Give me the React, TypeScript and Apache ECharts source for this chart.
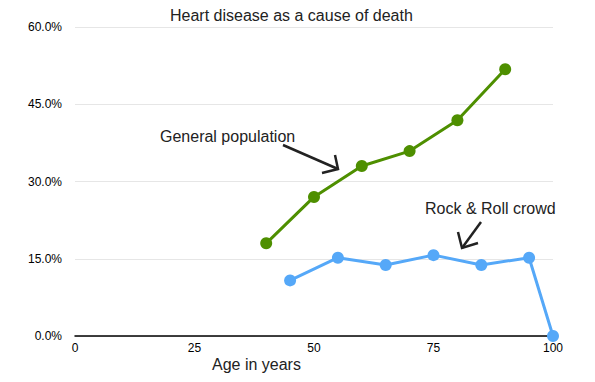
import React, { useEffect, useRef } from "react";
import * as echarts from "echarts";

const xTicks = [0, 25, 50, 75, 100];
const generalAges = [40, 50, 60, 70, 80, 90];
const generalValues = [18.0, 27.0, 33.0, 35.9, 41.9, 51.8];
const rockAges = [45, 55, 65, 75, 85, 95, 100];
const rockValues = [10.8, 15.2, 13.8, 15.7, 13.8, 15.2, 0];

const FONT = "Liberation Sans, Arial, Helvetica, sans-serif";

export default function App() {
  const ref = useRef<HTMLDivElement>(null);
  useEffect(() => {
    if (!ref.current) return;
    const chart = echarts.init(ref.current, null, { renderer: "svg" });
    const arrow = "#222222";
    chart.setOption({
      animation: false,
      backgroundColor: "#ffffff",
      textStyle: { fontFamily: FONT },
      grid: { left: 75, right: 42, top: 27, bottom: 46, containLabel: false },
      xAxis: {
        type: "value",
        min: xTicks[0],
        max: xTicks[xTicks.length - 1],
        interval: 25,
        axisLine: { show: true, lineStyle: { color: "#000000", width: 1.5 } },
        axisTick: { show: false },
        splitLine: { show: false },
        axisLabel: { color: "#000000", fontSize: 12, fontFamily: FONT, margin: 6 },
      },
      yAxis: {
        type: "value",
        min: 0,
        max: 60,
        interval: 15,
        axisLine: { show: false },
        axisTick: { show: false },
        splitLine: { show: true, lineStyle: { color: "#e6e6e6", width: 1 } },
        axisLabel: {
          color: "#000000",
          fontSize: 12,
          fontFamily: FONT,
          margin: 13,
          formatter: (v: number) => v.toFixed(1) + "%",
        },
      },
      series: [
        {
          type: "line",
          name: "General population",
          data: generalAges.map((a, i) => [a, generalValues[i]]),
          symbol: "circle",
          symbolSize: 12,
          lineStyle: { color: "#4e8f00", width: 3 },
          itemStyle: { color: "#4e8f00" },
          z: 3,
        },
        {
          type: "line",
          name: "Rock & Roll crowd",
          data: rockAges.map((a, i) => [a, rockValues[i]]),
          symbol: "circle",
          symbolSize: 12,
          lineStyle: { color: "#55a8f8", width: 3 },
          itemStyle: { color: "#55a8f8" },
          z: 3,
        },
      ],
      graphic: [
        {
          type: "text",
          left: 170,
          top: 7,
          style: { text: "Heart disease as a cause of death", font: "16px " + FONT, fill: "#222222" },
        },
        {
          type: "text",
          left: 212,
          top: 356,
          style: { text: "Age in years", font: "16px " + FONT, fill: "#222222" },
        },
        {
          type: "text",
          left: 160,
          top: 128,
          style: { text: "General population", font: "16px " + FONT, fill: "#222222" },
        },
        {
          type: "text",
          left: 425,
          top: 200,
          style: { text: "Rock & Roll crowd", font: "16px " + FONT, fill: "#222222" },
        },
        {
          type: "line",
          shape: { x1: 283, y1: 145, x2: 338, y2: 169 },
          style: { stroke: arrow, lineWidth: 2.5 },
          z: 10,
        },
        {
          type: "polyline",
          shape: { points: [[335, 155], [338, 169], [322, 173]] },
          style: { stroke: arrow, lineWidth: 2.5, fill: null },
          z: 10,
        },
        {
          type: "line",
          shape: { x1: 481, y1: 222, x2: 462, y2: 248 },
          style: { stroke: arrow, lineWidth: 2.5 },
          z: 10,
        },
        {
          type: "polyline",
          shape: { points: [[458, 232], [462, 248], [478, 243]] },
          style: { stroke: arrow, lineWidth: 2.5, fill: null },
          z: 10,
        },
      ],
    });
    return () => chart.dispose();
  }, []);
  return <div ref={ref} style={{ width: 595, height: 382, position: "absolute", left: 0, top: 0 }} />;
}
